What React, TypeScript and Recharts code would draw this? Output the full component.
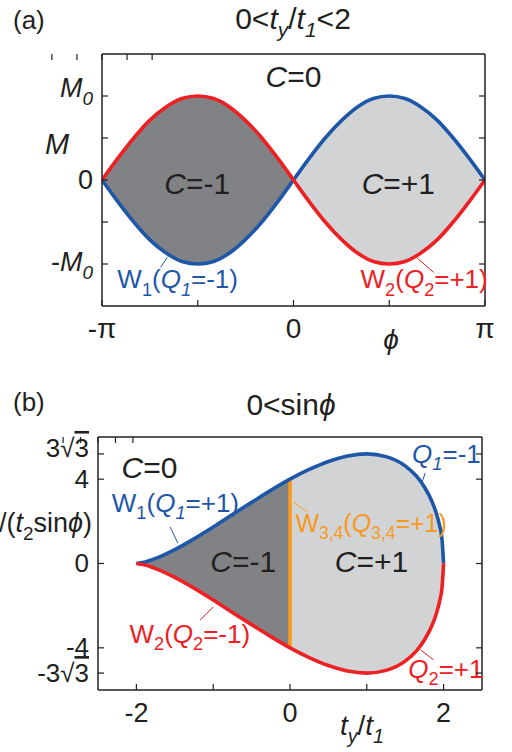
import React from 'react';
import { ComposedChart, Area, Line, XAxis, YAxis, ReferenceLine, ReferenceDot } from 'recharts';

const FONT = '"Liberation Sans", Arial, Helvetica, sans-serif';
const INK = '#231f20';
const RED = '#ed2024';
const BLUE = '#1f57a8';
const ORANGE = '#f8991d';
const DARK = '#808285';
const LIGHT = '#d1d3d4';

// (a) M / M0 against phi
const phiVals = [-3.1416, -2.88, -2.62, -2.36, -2.09, -1.83, -1.57, -1.31, -1.05, -0.79, -0.52, -0.26, 0, 0.26, 0.52, 0.79, 1.05, 1.31, 1.57, 1.83, 2.09, 2.36, 2.62, 2.88, 3.1416];
const redVals = [0, 0.26, 0.5, 0.71, 0.87, 0.97, 1, 0.97, 0.87, 0.71, 0.5, 0.26, 0, -0.26, -0.5, -0.71, -0.87, -0.97, -1, -0.97, -0.87, -0.71, -0.5, -0.26, 0];
const blueVals = [0, -0.26, -0.5, -0.71, -0.87, -0.97, -1, -0.97, -0.87, -0.71, -0.5, -0.26, 0, 0.26, 0.5, 0.71, 0.87, 0.97, 1, 0.97, 0.87, 0.71, 0.5, 0.26, 0];

// (b) M/(t2 sin phi) against ty/t1
const tyVals = [-2, -1.9, -1.75, -1.5, -1.25, -1, -0.75, -0.5, -0.25, 0, 0.25, 0.5, 0.75, 1, 1.25, 1.5, 1.65, 1.75, 1.85, 1.9, 1.95, 1.98, 2];
const upperVals = [0, 0.06, 0.24, 0.66, 1.17, 1.73, 2.32, 2.9, 3.47, 4, 4.46, 4.84, 5.1, 5.2, 5.07, 4.63, 4.13, 3.63, 2.93, 2.44, 1.76, 1.12, 0];
const lowerVals = [0, -0.06, -0.24, -0.66, -1.17, -1.73, -2.32, -2.9, -3.47, -4, -4.46, -4.84, -5.1, -5.2, -5.07, -4.63, -4.13, -3.63, -2.93, -2.44, -1.76, -1.12, 0];

type Seg = { t: string; it?: boolean; sub?: boolean; over?: boolean };

const phiTicks = [-Math.PI, -Math.PI / 2, 0, Math.PI / 2, Math.PI];
const phiTickText: Seg[][] = [[{ t: '-π' }], [], [{ t: '0' }], [], [{ t: 'π' }]];
const mTicks = [-1, -0.5, 0, 0.5, 1];
const mTickText: Seg[][] = [
  [{ t: '-' }, { t: 'M', it: true }, { t: '0', it: true, sub: true }],
  [],
  [{ t: '0' }],
  [],
  [{ t: 'M', it: true }, { t: '0', it: true, sub: true }],
];
const tyTicks = [-2, -1, 0, 1, 2];
const tyTickText: Seg[][] = [[{ t: '-2' }], [], [{ t: '0' }], [], [{ t: '2' }]];
const bTicks = [-5.196, -4, 0, 4, 5.196];
const bTickText: Seg[][] = [
  [{ t: '-3√' }, { t: '3', over: true }],
  [{ t: '-4' }],
  [{ t: '0' }],
  [{ t: '4' }],
  [{ t: '3√' }, { t: '3', over: true }],
];

const dataA = phiVals.map((phi, i) => ({
  phi,
  red: redVals[i],
  blue: blueVals[i],
  dark: phi <= 0 ? [blueVals[i], redVals[i]] : null,
  light: phi >= 0 ? [redVals[i], blueVals[i]] : null,
}));

const dataB = tyVals.map((ty, i) => ({
  ty,
  up: upperVals[i],
  lo: lowerVals[i],
  dark: ty <= 0 ? [lowerVals[i], upperVals[i]] : null,
  light: ty >= 0 ? [lowerVals[i], upperVals[i]] : null,
}));

function rich(segs: Seg[], size: number) {
  let low = false;
  return segs.map((s, i) => {
    let dy: number | undefined;
    if (s.sub && !low) {
      dy = size * 0.28;
      low = true;
    } else if (!s.sub && low) {
      dy = -size * 0.28;
      low = false;
    }
    return (
      <tspan
        key={i}
        dy={dy}
        fontSize={s.sub ? size * 0.7 : size}
        fontStyle={s.it ? 'italic' : 'normal'}
        textDecoration={s.over ? 'overline' : undefined}
      >
        {s.t}
      </tspan>
    );
  });
}

function makeTick(side: string, labels: Seg[][] = [], size = 26, nudge: number[] = []) {
  return (p: any) => {
    const { x, y, index } = p;
    const len = 6;
    let x2 = x;
    let y2 = y;
    if (side === 'bottom') y2 = y - len;
    if (side === 'top') y2 = y + len;
    if (side === 'left') x2 = x + len;
    if (side === 'right') x2 = x - len;
    const segs = labels[index];
    let label = null;
    if (segs && segs.length) {
      const tx = side === 'left' ? x - 9 : x;
      const ty = side === 'bottom' ? y + 32 : y + 9 + (nudge[index] || 0);
      label = (
        <text x={tx} y={ty} fill={INK} fontSize={size} fontFamily={FONT} textAnchor={side === 'left' ? 'end' : 'middle'}>
          {rich(segs, size)}
        </text>
      );
    }
    return (
      <g>
        <line x1={x} y1={y} x2={x2} y2={y2} stroke={INK} strokeWidth={1.2} />
        {label}
      </g>
    );
  };
}

const note = (segs: Seg[], color: string, size: number, anchor = 'start') => (p: any) => (
  <text x={p.cx} y={p.cy} fill={color} fontSize={size} fontFamily={FONT} textAnchor={anchor}>
    {rich(segs, size)}
  </text>
);

const frame = { stroke: INK, strokeWidth: 1.5 };

function Overlay() {
  const t = (x: number, y: number, segs: Seg[], size: number, anchor = 'start') => (
    <text x={x} y={y} fill={INK} fontSize={size} fontFamily={FONT} textAnchor={anchor}>
      {rich(segs, size)}
    </text>
  );
  return (
    <svg width={512} height={752} style={{ position: 'absolute', left: 0, top: 0, pointerEvents: 'none' }}>
      {t(13, 29, [{ t: '(a)' }], 26)}
      {t(293, 29, [{ t: '0<' }, { t: 't', it: true }, { t: 'y', it: true, sub: true }, { t: '/' }, { t: 't', it: true }, { t: '1', it: true, sub: true }, { t: '<2' }], 30, 'middle')}
      {t(57, 154, [{ t: 'M', it: true }], 29, 'middle')}
      {t(391, 349, [{ t: 'ϕ', it: true }], 28, 'middle')}
      {t(13, 411, [{ t: '(b)' }], 26)}
      {t(291, 415, [{ t: '0<sin' }, { t: 'ϕ', it: true }], 30, 'middle')}
      {t(92, 532, [{ t: 'M', it: true }, { t: '/(' }, { t: 't', it: true }, { t: '2', sub: true }, { t: 'sin' }, { t: 'ϕ', it: true }, { t: ')' }], 27, 'end')}
      {t(362, 735, [{ t: 't', it: true }, { t: 'y', it: true, sub: true }, { t: '/' }, { t: 't', it: true }, { t: '1', it: true, sub: true }], 28, 'middle')}
    </svg>
  );
}

export default function App() {
  return (
    <div style={{ position: 'absolute', left: 0, top: 0, width: 512, height: 752, background: '#fff', overflow: 'hidden' }}>
      <div style={{ position: 'absolute', left: 0, top: 0 }}>
        <ComposedChart width={512} height={370} data={dataA} margin={{ top: 53, right: 26, bottom: 14, left: 42 }}>
          <XAxis dataKey="phi" type="number" domain={[-Math.PI, Math.PI]} ticks={phiTicks} interval={0} allowDataOverflow height={50} tickSize={0} tickMargin={0} axisLine={frame} tickLine={false} tick={makeTick('bottom', phiTickText, 28)} />
          <XAxis xAxisId="top" orientation="top" type="number" domain={[-Math.PI, Math.PI]} ticks={phiTicks} interval={0} allowDataOverflow height={1} tickSize={0} tickMargin={0} axisLine={frame} tickLine={false} tick={makeTick('top')} />
          <YAxis type="number" domain={[-1.5, 1.5]} ticks={mTicks} interval={0} allowDataOverflow width={60} tickSize={0} tickMargin={0} axisLine={frame} tickLine={false} tick={makeTick('left', mTickText, 27, [-2, 0, 0, 0, -8])} />
          <YAxis yAxisId="right" orientation="right" type="number" domain={[-1.5, 1.5]} ticks={mTicks} interval={0} allowDataOverflow width={1} tickSize={0} tickMargin={0} axisLine={frame} tickLine={false} tick={makeTick('right')} />
          <Area dataKey="dark" type="monotone" fill={DARK} fillOpacity={1} stroke="none" isAnimationActive={false} />
          <Area dataKey="light" type="monotone" fill={LIGHT} fillOpacity={1} stroke="none" isAnimationActive={false} />
          <Line dataKey="blue" type="monotone" stroke={BLUE} strokeWidth={3.6} dot={false} activeDot={false} isAnimationActive={false} />
          <Line dataKey="red" type="monotone" stroke={RED} strokeWidth={3.6} dot={false} activeDot={false} isAnimationActive={false} />
          <ReferenceLine segment={[{ x: -2.18, y: -1.04 }, { x: -2.07, y: -0.92 }]} stroke={BLUE} strokeWidth={1} />
          <ReferenceLine segment={[{ x: 2.3, y: -1.1 }, { x: 2.03, y: -0.93 }]} stroke={RED} strokeWidth={1} />
          <ReferenceDot x={0} y={1.11} r={0} shape={note([{ t: 'C', it: true }, { t: '=0' }], INK, 30, 'middle')} />
          <ReferenceDot x={-1.58} y={-0.17} r={0} shape={note([{ t: 'C', it: true }, { t: '=-1' }], INK, 30, 'middle')} />
          <ReferenceDot x={1.72} y={-0.17} r={0} shape={note([{ t: 'C', it: true }, { t: '=+1' }], INK, 30, 'middle')} />
          <ReferenceDot x={-2.89} y={-1.29} r={0} shape={note([{ t: 'W' }, { t: '1', sub: true }, { t: '(' }, { t: 'Q', it: true }, { t: '1', it: true, sub: true }, { t: '=-1)' }], BLUE, 26)} />
          <ReferenceDot x={1.1} y={-1.29} r={0} shape={note([{ t: 'W' }, { t: '2', sub: true }, { t: '(' }, { t: 'Q', it: true }, { t: '2', sub: true }, { t: '=+1)' }], RED, 26)} />
        </ComposedChart>
      </div>
      <div style={{ position: 'absolute', left: 0, top: 360 }}>
        <ComposedChart width={512} height={392} data={dataB} margin={{ top: 76, right: 29, bottom: 12, left: 38 }}>
          <XAxis dataKey="ty" type="number" domain={[-2.5, 2.5]} ticks={tyTicks} interval={0} allowDataOverflow height={50} tickSize={0} tickMargin={0} axisLine={frame} tickLine={false} tick={makeTick('bottom', tyTickText, 27)} />
          <XAxis xAxisId="top" orientation="top" type="number" domain={[-2.5, 2.5]} ticks={tyTicks} interval={0} allowDataOverflow height={1} tickSize={0} tickMargin={0} axisLine={frame} tickLine={false} tick={makeTick('top')} />
          <YAxis type="number" domain={[-6, 6]} ticks={bTicks} interval={0} allowDataOverflow width={60} tickSize={0} tickMargin={0} axisLine={frame} tickLine={false} tick={makeTick('left', bTickText, 26, [0, -1, -1, 0, -6])} />
          <YAxis yAxisId="right" orientation="right" type="number" domain={[-6, 6]} ticks={bTicks} interval={0} allowDataOverflow width={1} tickSize={0} tickMargin={0} axisLine={frame} tickLine={false} tick={makeTick('right')} />
          <Area dataKey="dark" type="monotone" fill={DARK} fillOpacity={1} stroke="none" isAnimationActive={false} />
          <Area dataKey="light" type="monotone" fill={LIGHT} fillOpacity={1} stroke="none" isAnimationActive={false} />
          <ReferenceLine segment={[{ x: 0, y: -4 }, { x: 0, y: 4 }]} stroke={ORANGE} strokeWidth={3.6} />
          <Line dataKey="up" type="monotone" stroke={BLUE} strokeWidth={3.6} dot={false} activeDot={false} isAnimationActive={false} />
          <Line dataKey="lo" type="monotone" stroke={RED} strokeWidth={3.6} dot={false} activeDot={false} isAnimationActive={false} />
          <ReferenceLine segment={[{ x: -1.56, y: 1.73 }, { x: -1.46, y: 0.97 }]} stroke={BLUE} strokeWidth={1} />
          <ReferenceLine segment={[{ x: 0.04, y: 2.92 }, { x: 0.23, y: 2.44 }]} stroke={ORANGE} strokeWidth={1} />
          <ReferenceLine segment={[{ x: 1.76, y: 4.29 }, { x: 1.72, y: 3.86 }]} stroke={BLUE} strokeWidth={1} />
          <ReferenceLine segment={[{ x: -1.17, y: -2.68 }, { x: -1.0, y: -2.06 }]} stroke={RED} strokeWidth={1} />
          <ReferenceLine segment={[{ x: 1.87, y: -4.57 }, { x: 1.7, y: -4.1 }]} stroke={RED} strokeWidth={1} />
          <ReferenceDot x={-1.83} y={4.05} r={0} shape={note([{ t: 'C', it: true }, { t: '=0' }], INK, 30, 'middle')} />
          <ReferenceDot x={-0.61} y={-0.4} r={0} shape={note([{ t: 'C', it: true }, { t: '=-1' }], INK, 30, 'middle')} />
          <ReferenceDot x={1.06} y={-0.4} r={0} shape={note([{ t: 'C', it: true }, { t: '=+1' }], INK, 30, 'middle')} />
          <ReferenceDot x={-2.32} y={2.44} r={0} shape={note([{ t: 'W' }, { t: '1', sub: true }, { t: '(' }, { t: 'Q', it: true }, { t: '1', it: true, sub: true }, { t: '=+1)' }], BLUE, 26)} />
          <ReferenceDot x={0.07} y={1.49} r={0} shape={note([{ t: 'W' }, { t: '3,4', sub: true }, { t: '(' }, { t: 'Q', it: true }, { t: '3,4', sub: true }, { t: '=+1)' }], ORANGE, 25)} />
          <ReferenceDot x={1.59} y={4.76} r={0} shape={note([{ t: 'Q', it: true }, { t: '1', it: true, sub: true }, { t: '=-1' }], BLUE, 26)} />
          <ReferenceDot x={-2.09} y={-3.77} r={0} shape={note([{ t: 'W' }, { t: '2', sub: true }, { t: '(' }, { t: 'Q', it: true }, { t: '2', sub: true }, { t: '=-1)' }], RED, 26)} />
          <ReferenceDot x={1.54} y={-5.43} r={0} shape={note([{ t: 'Q', it: true }, { t: '2', sub: true }, { t: '=+1' }], RED, 26)} />
        </ComposedChart>
      </div>
      <Overlay />
    </div>
  );
}
